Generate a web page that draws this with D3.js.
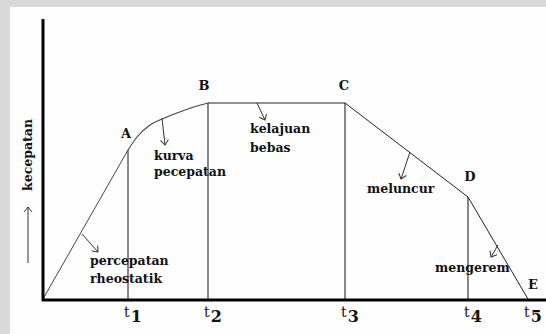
<!DOCTYPE html>
<html>
<head>
<meta charset="utf-8">
<script src="https://cdn.jsdelivr.net/npm/d3@7"></script>
<style>
  body { margin: 0; background: #d9d9d9; }
  svg { display: block; }
</style>
</head>
<body>
<div id="wrapper"></div>
<script>
// titik-titik kurva kecepatan (waktu, kecepatan)
const pointNames = ["O", "A", "B", "C", "D", "E"];
const pointTimes = [0, 85, 165, 302, 425, 485];
const pointSpeeds = [0, 149, 196, 196, 102, 0];
// kurva percepatan antara A dan B
const curveTimes = [85, 94, 107, 119, 134, 154, 165];
const curveSpeeds = [149, 162, 174, 180, 186, 193, 196];
// label waktu
const tLabels = ["1", "2", "3", "4", "5"];
const tTimes = [85, 165, 302, 425, 485];

function buildPlot() {
    const dimension = { width: 546, height: 334 };

    const svg = d3.select("#wrapper").append("svg")
        .attr("width", dimension.width)
        .attr("height", dimension.height);

    // panel putih
    svg.append("rect")
        .attr("x", 10).attr("y", 7)
        .attr("width", dimension.width - 10)
        .attr("height", dimension.height - 7)
        .attr("fill", "#fefefe");

    const xScaler = d3.scaleLinear().domain([0, 505]).range([43, 548]);
    const yScaler = d3.scaleLinear().domain([0, 280]).range([299, 19]);

    const serif = "DejaVu Serif";

    const defs = svg.append("defs");
    defs.append("marker")
        .attr("id", "head")
        .attr("markerUnits", "userSpaceOnUse")
        .attr("markerWidth", 12).attr("markerHeight", 12)
        .attr("refX", 6).attr("refY", 6)
        .attr("orient", "auto")
        .append("path")
        .attr("d", "M1,2 L6,6 L1,10")
        .attr("fill", "none")
        .attr("stroke", "#333")
        .attr("stroke-width", 1);

    // garis vertikal t1..t4
    const vertIdx = [1, 2, 3, 4];
    svg.selectAll(".vline").data(vertIdx).join("line")
        .attr("x1", i => xScaler(pointTimes[i]))
        .attr("x2", i => xScaler(pointTimes[i]))
        .attr("y1", yScaler(0))
        .attr("y2", i => yScaler(pointSpeeds[i]))
        .attr("stroke", "#111")
        .attr("stroke-width", 1);

    // kurva kecepatan
    const line = d3.line()
        .x(d => xScaler(d[0]))
        .y(d => yScaler(d[1]));
    const segO = [[pointTimes[0], pointSpeeds[0]], [pointTimes[1], pointSpeeds[1]]];
    const segAB = curveTimes.map((t, i) => [t, curveSpeeds[i]]);
    const segBE = d3.range(2, 6).map(i => [pointTimes[i], pointSpeeds[i]]);

    svg.append("path").attr("d", line(segO))
        .attr("fill", "none").attr("stroke", "#444").attr("stroke-width", 1);
    svg.append("path").attr("d", line.curve(d3.curveMonotoneX)(segAB))
        .attr("fill", "none").attr("stroke", "#444").attr("stroke-width", 1.1);
    line.curve(d3.curveLinear);
    svg.append("path").attr("d", line(segBE))
        .attr("fill", "none").attr("stroke", "#222").attr("stroke-width", 1);

    // sumbu
    svg.append("line")
        .attr("x1", xScaler(0) - 1).attr("x2", xScaler(505))
        .attr("y1", yScaler(0) + 1).attr("y2", yScaler(0) + 1)
        .attr("stroke", "#000").attr("stroke-width", 3);
    svg.append("line")
        .attr("x1", xScaler(0)).attr("x2", xScaler(0))
        .attr("y1", yScaler(280)).attr("y2", yScaler(0) + 2)
        .attr("stroke", "#000").attr("stroke-width", 3);

    // huruf titik
    const letterOffsets = { A: [-2, -12], B: [-4, -13], C: [-1, -13], D: [2, -16], E: [5, -10] };
    svg.selectAll(".pname").data(pointNames.slice(1)).join("text")
        .attr("x", (d, i) => xScaler(pointTimes[i + 1]) + letterOffsets[d][0])
        .attr("y", (d, i) => yScaler(pointSpeeds[i + 1]) + letterOffsets[d][1])
        .attr("text-anchor", "middle")
        .attr("font-family", serif)
        .attr("font-weight", "bold")
        .attr("font-size", 13)
        .attr("fill", "#111")
        .text(d => d);

    // label t
    const tg = svg.selectAll(".tlab").data(tLabels).join("text")
        .attr("x", (d, i) => xScaler(tTimes[i]) - 4)
        .attr("y", 317)
        .attr("font-family", serif)
        .attr("fill", "#111");
    tg.append("tspan").attr("font-size", 14).text("t");
    tg.append("tspan").attr("font-size", 16).attr("font-weight", "bold")
        .attr("dx", 1).attr("dy", 5).text(d => d);

    // anotasi
    const annotations = [
        { lines: ["percepatan", "rheostatik"], x: 90, y: [265, 283], from: [82, 234], to: [98, 252] },
        { lines: ["kurva", "pecepatan"], x: 154, y: [160, 176], from: [162, 118], to: [165, 145] },
        { lines: ["kelajuan", "bebas"], x: 250, y: [133, 152], from: [257, 103], to: [265, 120] },
        { lines: ["meluncur"], x: 367, y: [193], from: [410, 152], to: [401, 179] },
        { lines: ["mengerem"], x: 435, y: [272], from: [498, 245], to: [491, 257] }
    ];
    annotations.forEach(a => {
        a.lines.forEach((s, i) => {
            svg.append("text")
                .attr("x", a.x).attr("y", a.y[i])
                .attr("font-family", serif)
                .attr("font-weight", "bold")
                .attr("font-size", 12.5)
                .attr("fill", "#111")
                .text(s);
        });
        svg.append("line")
            .attr("x1", a.from[0]).attr("y1", a.from[1])
            .attr("x2", a.to[0]).attr("y2", a.to[1])
            .attr("stroke", "#333").attr("stroke-width", 1)
            .attr("marker-end", "url(#head)");
    });

    // label sumbu y
    svg.append("text")
        .attr("transform", "translate(32,155) rotate(-90)")
        .attr("text-anchor", "middle")
        .attr("font-family", serif)
        .attr("font-weight", "bold")
        .attr("font-size", 12.5)
        .attr("fill", "#111")
        .text("kecepatan");
    svg.append("line")
        .attr("x1", 28).attr("x2", 28)
        .attr("y1", 263).attr("y2", 207)
        .attr("stroke", "#333").attr("stroke-width", 1)
        .attr("marker-end", "url(#head)");
}

buildPlot();
</script>
</body>
</html>
